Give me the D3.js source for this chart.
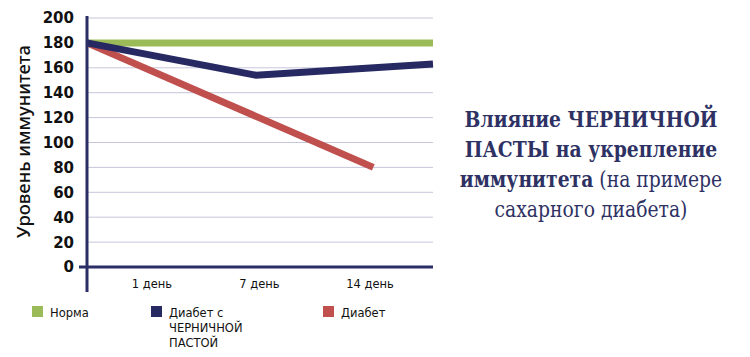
<!DOCTYPE html>
<html><head><meta charset="utf-8">
<script src="https://cdn.jsdelivr.net/npm/d3@7"></script>
<style>body{margin:0;background:#fff}svg{display:block}</style>
</head><body>
<svg id="c" width="750" height="357"></svg>
<script>
const categories = ["1 день", "7 день", "14 день"];
const yTicks = [0, 20, 40, 60, 80, 100, 120, 140, 160, 180, 200];
// x positions in category-index units (-0.56 = left axis, 2.57 = right edge)
const normaX = [-0.56, 2.57];
const normaY = [180, 180];
const pasteX = [-0.56, 0.97, 2.57];
const pasteY = [180, 154, 163];
const diabetX = [-0.56, 2.03];
const diabetY = [180, 80];
const seriesNames = ["Норма", "Диабет с\nЧЕРНИЧНОЙ\nПАСТОЙ", "Диабет"];
const seriesColors = ["#9bbb59", "#272a62", "#c0504d"];
const titleLines = [
  [["Влияние ЧЕРНИЧНОЙ", true]],
  [["ПАСТЫ на укрепление", true]],
  [["иммунитета", true], [" (на примере", false]],
  [["сахарного диабета)", false]]
];

const svg = d3.select("#c");
const navy = "#2a2d66";
const sans = "DejaVu Sans, sans-serif";
const x = d3.scaleLinear().domain([-0.56, 2.57]).range([87, 433]);
const y = d3.scaleLinear().domain([0, 200]).range([267, 18]);

// gridlines
svg.append("g").selectAll("line").data(yTicks.filter(d => d > 0)).join("line")
  .attr("x1", 87).attr("x2", 433)
  .attr("y1", d => y(d)).attr("y2", d => y(d))
  .attr("stroke", "#c6c6da").attr("stroke-width", 1);

// y tick labels
svg.append("g").selectAll("text").data(yTicks).join("text")
  .attr("x", 74).attr("y", d => y(d)).attr("dy", "0.36em")
  .attr("text-anchor", "end")
  .attr("font-family", sans)
  .attr("font-weight", "bold").attr("font-size", 15).attr("fill", "#111")
  .text(d => d);

// y title (fit to measured length)
const yt = svg.append("text")
  .attr("transform", "translate(29.5,141.5) rotate(-90)")
  .attr("text-anchor", "middle")
  .attr("font-family", "Noto Sans, sans-serif").attr("font-weight", 500)
  .attr("font-size", 17).attr("fill", "#111")
  .text("Уровень иммунитета");
const ytw = yt.node().getComputedTextLength();
yt.attr("font-size", 17 * 193 / ytw);

// x labels
svg.append("g").selectAll("text").data(categories).join("text")
  .attr("x", (d, i) => x(i) + (i === 0 ? 3 : 0)).attr("y", 288)
  .attr("text-anchor", "middle")
  .attr("font-family", sans)
  .attr("font-size", 11.5).attr("fill", "#111")
  .text(d => d);

// lines
const line = d3.line().x(d => x(d[0])).y(d => y(d[1]));
const series = [
  d3.zip(normaX, normaY),
  d3.zip(pasteX, pasteY),
  d3.zip(diabetX, diabetY)
];
[0, 2, 1].forEach(i => {
  svg.append("path").datum(series[i])
    .attr("d", line).attr("fill", "none")
    .attr("stroke", seriesColors[i]).attr("stroke-width", 7)
    .attr("stroke-linejoin", "miter").attr("stroke-linecap", "butt");
});

// axes lines
svg.append("line").attr("x1", 87).attr("x2", 87).attr("y1", 16).attr("y2", 292)
  .attr("stroke", navy).attr("stroke-width", 3);
svg.append("line").attr("x1", 79).attr("x2", 433).attr("y1", y(0)).attr("y2", y(0))
  .attr("stroke", navy).attr("stroke-width", 3);

// legend
const legX = [32, 151, 323];
seriesNames.forEach((n, i) => {
  const g = svg.append("g");
  g.append("rect").attr("x", legX[i]).attr("y", 306).attr("width", 11).attr("height", 11)
    .attr("fill", seriesColors[i]);
  const t = g.append("text").attr("x", legX[i] + 18).attr("y", 317)
    .attr("font-family", sans)
    .attr("font-size", 11.5).attr("fill", "#111");
  n.split("\n").forEach((s, k) => {
    t.append("tspan").attr("x", legX[i] + 18).attr("dy", k ? 15 : 0).text(s);
  });
});

// title (slightly condensed horizontally)
const tg = svg.append("g").attr("font-family", "DejaVu Serif, serif").attr("fill", "#2e3163");
const tl = titleLines.map((parts, i) => {
  const t = tg.append("text").attr("x", 0).attr("y", 0)
    .attr("text-anchor", "middle").attr("font-size", 21.5);
  parts.forEach(p => t.append("tspan").attr("font-weight", p[1] ? "bold" : "normal").text(p[0]));
  return t;
});
const w0 = tl[0].node().getComputedTextLength();
const sx = 253 / w0;
tl.forEach((t, i) => t.attr("transform", `translate(591,${127 + i * 30}) scale(${sx},1)`));
</script>
</body></html>
